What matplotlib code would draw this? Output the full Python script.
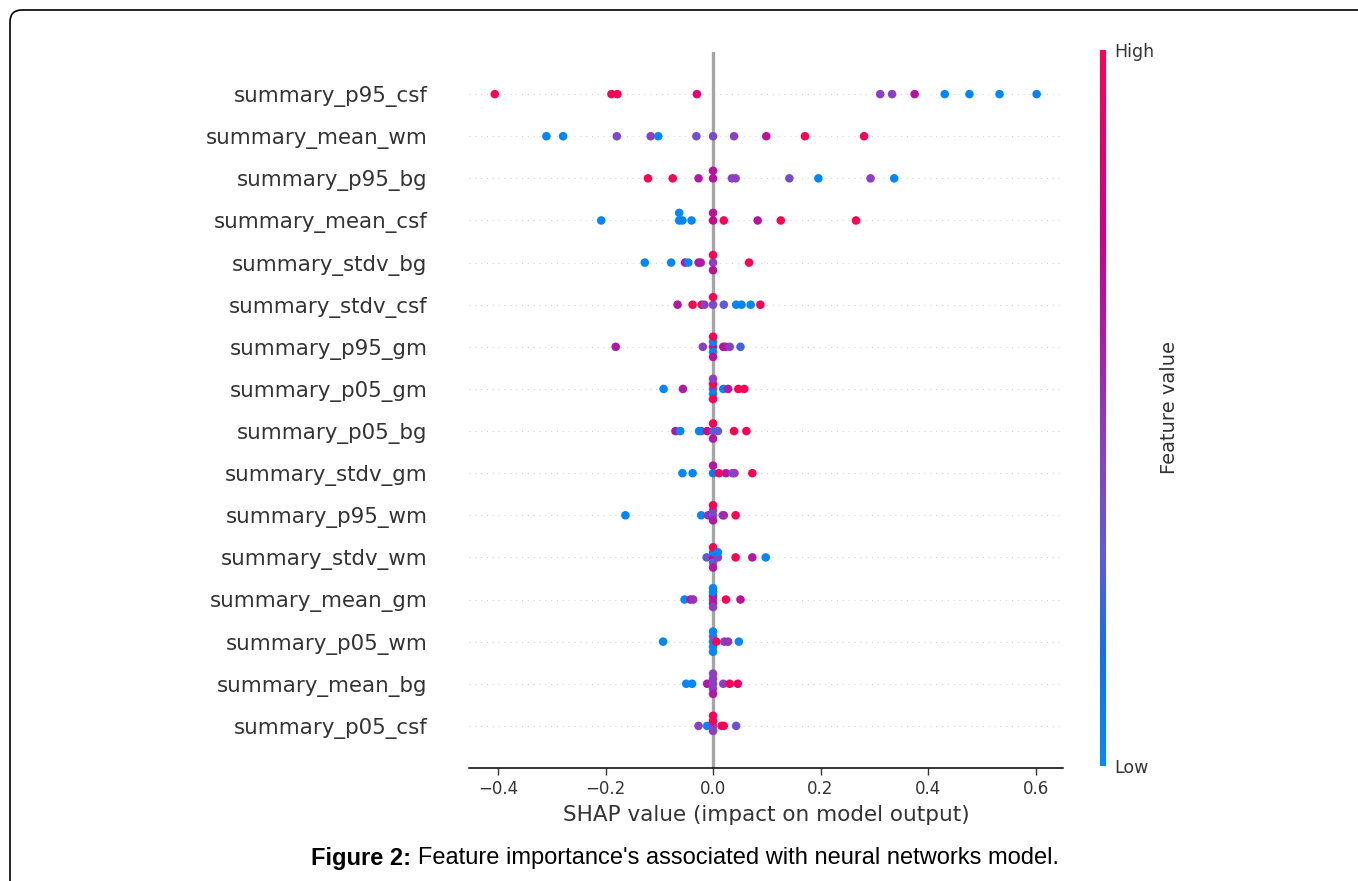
import matplotlib.pyplot as plt
import numpy as np
from matplotlib.colors import LinearSegmentedColormap
from matplotlib.patches import FancyBboxPatch
from matplotlib.transforms import IdentityTransform

features = ['summary_p95_csf', 'summary_mean_wm', 'summary_p95_bg', 'summary_mean_csf',
            'summary_stdv_bg', 'summary_stdv_csf', 'summary_p95_gm', 'summary_p05_gm',
            'summary_p05_bg', 'summary_stdv_gm', 'summary_p95_wm', 'summary_stdv_wm',
            'summary_mean_gm', 'summary_p05_wm', 'summary_mean_bg', 'summary_p05_csf']

# SHAP values per feature (top row first)
shap_values = [
    [-0.406, -0.189, -0.178, -0.030, 0.311, 0.333, 0.375, 0.431, 0.477, 0.533, 0.602],
    [-0.310, -0.279, -0.179, -0.116, -0.102, -0.031, 0.0, 0.039, 0.099, 0.171, 0.281],
    [-0.121, -0.075, -0.027, 0.0, 0.0, 0.035, 0.042, 0.142, 0.196, 0.293, 0.337],
    [-0.208, -0.063, -0.063, -0.057, -0.040, 0.0, 0.0, 0.020, 0.083, 0.126, 0.266],
    [-0.127, -0.078, -0.052, -0.046, -0.027, -0.023, 0.0, 0.0, 0.0, 0.067],
    [-0.066, -0.038, -0.021, -0.016, 0.0, 0.0, 0.020, 0.043, 0.053, 0.070, 0.088],
    [-0.181, -0.019, 0.0, 0.0, 0.0, 0.0, 0.0, 0.019, 0.023, 0.031, 0.051],
    [-0.092, -0.056, 0.0, 0.0, 0.0, 0.0, 0.0, 0.019, 0.028, 0.047, 0.058],
    [-0.070, -0.061, -0.026, -0.022, -0.011, 0.0, 0.0, 0.0, 0.009, 0.039, 0.062],
    [-0.057, -0.038, 0.0, 0.0, 0.011, 0.024, 0.036, 0.040, 0.073],
    [-0.163, -0.022, -0.009, 0.0, 0.0, 0.0, 0.0, 0.018, 0.020, 0.042],
    [-0.012, 0.0, 0.0, 0.0, 0.0, 0.0, 0.009, 0.009, 0.042, 0.073, 0.098],
    [-0.053, -0.042, -0.037, 0.0, 0.0, 0.0, 0.0, 0.0, 0.0, 0.024, 0.051],
    [-0.093, 0.0, 0.0, 0.0, 0.0, 0.0, 0.006, 0.021, 0.028, 0.048],
    [-0.050, -0.039, -0.011, 0.0, 0.0, 0.0, 0.0, 0.0, 0.019, 0.031, 0.046],
    [-0.027, -0.011, 0.0, 0.0, 0.0, 0.0, 0.016, 0.020, 0.043],
]

# normalised feature value (0 = low / blue, 1 = high / red)
feature_levels = [
    [1.0, 1.0, 1.0, 0.85, 0.45, 0.45, 0.65, 0.02, 0.02, 0.02, 0.05],
    [0.02, 0.05, 0.4, 0.45, 0.02, 0.35, 0.4, 0.45, 0.65, 1.0, 1.0],
    [1.0, 1.0, 0.6, 0.65, 0.65, 0.45, 0.45, 0.38, 0.02, 0.45, 0.02],
    [0.02, 0.02, 0.02, 0.02, 0.02, 0.75, 0.65, 1.0, 0.65, 1.0, 1.0],
    [0.02, 0.02, 0.62, 0.02, 0.62, 0.6, 0.45, 1.0, 0.65, 1.0],
    [0.62, 1.0, 1.0, 0.45, 0.4, 1.0, 0.3, 0.02, 0.05, 0.02, 1.0],
    [0.62, 0.45, 0.65, 0.02, 0.05, 1.0, 0.65, 0.65, 0.62, 0.45, 0.25],
    [0.02, 0.62, 0.45, 1.0, 0.02, 0.45, 1.0, 0.05, 0.62, 1.0, 1.0],
    [0.62, 0.02, 0.02, 0.05, 0.85, 0.3, 1.0, 0.62, 0.3, 1.0, 1.0],
    [0.02, 0.02, 0.1, 0.62, 1.0, 0.62, 0.45, 0.45, 1.0],
    [0.02, 0.02, 0.55, 0.3, 0.45, 0.62, 1.0, 0.45, 0.55, 1.0],
    [0.3, 0.85, 0.05, 0.3, 1.0, 0.62, 0.45, 0.02, 1.0, 0.62, 0.02],
    [0.02, 0.6, 0.5, 0.45, 0.62, 0.62, 0.05, 0.45, 0.02, 1.0, 0.65],
    [0.02, 0.05, 0.3, 0.02, 0.02, 0.02, 1.0, 0.45, 0.5, 0.02],
    [0.02, 0.02, 0.62, 0.45, 0.45, 0.45, 0.45, 0.62, 0.45, 1.0, 0.9],
    [0.45, 0.02, 0.45, 1.0, 0.45, 1.0, 1.0, 1.0, 0.35],
]

red_blue = LinearSegmentedColormap.from_list('red_blue', [
    (0.0, '#008bfb'), (0.15, '#1070f0'), (0.3, '#5f5adc'), (0.45, '#8a3fc4'),
    (0.6, '#b01aa6'), (0.75, '#cf0088'), (1.0, '#ff0052')])


def swarm_offsets(vals, row_height=0.4, nbins=100):
    # same layering idea as shap's beeswarm, without the random tie-break
    vals = np.asarray(vals)
    quant = np.round(nbins * (vals - vals.min()) / (vals.max() - vals.min() + 1e-8))
    inds = np.argsort(quant, kind='stable')
    layer = 0
    last_bin = -1
    ys = np.zeros(len(vals))
    for ind in inds:
        if quant[ind] != last_bin:
            layer = 0
        ys[ind] = np.ceil(layer / 2) * ((layer % 2) * 2 - 1)
        layer += 1
        last_bin = quant[ind]
    ys *= 0.9 * (row_height / np.max(ys + 1))
    return ys


def main():
    plt.rcParams['font.family'] = 'DejaVu Sans'
    W, H = 1358, 881
    fig = plt.figure(figsize=(W / 100, H / 100), dpi=100)
    ax = fig.add_axes([469 / W, 1 - 768 / H, 594 / W, 716 / H])

    n = len(features)
    ax.axvline(0, color='#a6a6a6', lw=2.4, zorder=1)
    for i in range(n):
        pos = n - 1 - i
        ax.axhline(pos, color='#cccccc', lw=0.7, dashes=(1, 5), zorder=0)
        vals = np.array(shap_values[i])
        ys = swarm_offsets(vals)
        ax.scatter(vals, pos + ys, c=feature_levels[i], cmap=red_blue, vmin=0, vmax=1,
                   s=38, linewidths=0, zorder=3)

    ax.set_xlim(-0.454, 0.651)
    ax.set_ylim(-1, n)
    ax.set_yticks(range(n))
    ax.set_yticklabels(features[::-1], fontsize=15.4, color='#333333')
    ax.tick_params(axis='y', length=0, pad=30)
    ax.set_xticks([-0.4, -0.2, 0.0, 0.2, 0.4, 0.6])
    ax.tick_params(axis='x', labelsize=12, labelcolor='#333333', color='#333333',
                   length=5, width=1)
    ax.set_xlabel('SHAP value (impact on model output)', fontsize=15.5,
                  color='#333333', labelpad=5)
    for side in ['left', 'right', 'top']:
        ax.spines[side].set_visible(False)
    ax.spines['bottom'].set_linewidth(1.1)

    cax = fig.add_axes([1100 / W, 1 - 766 / H, 6 / W, 716 / H])
    sm = plt.cm.ScalarMappable(cmap=red_blue, norm=plt.Normalize(0, 1))
    cb = fig.colorbar(sm, cax=cax, ticks=[0, 1])
    cb.set_ticklabels(['Low', 'High'])
    cb.ax.tick_params(labelsize=12.5, length=0, labelcolor='#333333', pad=6)
    cb.set_label('Feature value', size=14, color='#333333', labelpad=4)
    cb.outline.set_visible(False)

    # journal page frame (open at the right and bottom edges)
    frame = FancyBboxPatch((10, -40), 1400, 911,
                           boxstyle='round,pad=0,rounding_size=12',
                           transform=IdentityTransform(), fill=False,
                           edgecolor='black', lw=1.2)
    fig.patches.append(frame)

    fig.text(411 / W, 1 - 858 / H, 'Figure 2:', fontsize=17, fontweight='bold',
             family='Liberation Sans', ha='right', va='center')
    fig.text(418 / W, 1 - 858 / H, "Feature importance's associated with neural networks model.",
             fontsize=17, family='Liberation Sans', ha='left', va='center')

    fig.savefig('out.png', dpi=100)


if __name__ == '__main__':
    main()
